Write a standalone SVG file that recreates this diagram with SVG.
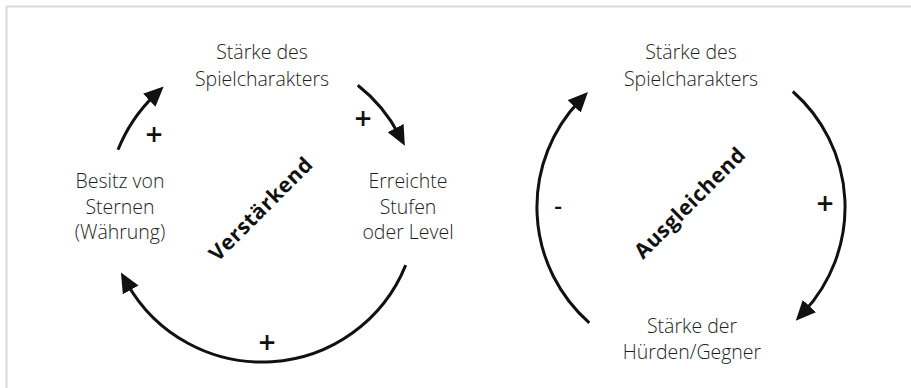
<svg xmlns="http://www.w3.org/2000/svg" width="911" height="388" viewBox="0 0 911 388">
  <style>
    .node { font-family: "Open Sans", "Liberation Sans", sans-serif; font-size: 19.5px; font-weight: 300; fill: #1e1e1e; text-anchor: middle; }
    .loop { font-family: "Open Sans", "Liberation Sans", sans-serif; font-size: 21px; font-weight: 700; fill: #111; text-anchor: middle; letter-spacing: 0.6px; }
    .sign { font-family: "Open Sans", "Liberation Sans", sans-serif; font-size: 30px; font-weight: 600; fill: #111; text-anchor: middle; }
    .minus { font-family: "Open Sans", "Liberation Sans", sans-serif; font-size: 24px; font-weight: 600; fill: #111; text-anchor: middle; }
    .link { fill: none; stroke: #111; stroke-width: 3; }
  </style>
  <defs>
    <marker id="head" markerUnits="userSpaceOnUse" markerWidth="20" markerHeight="18" refX="8" refY="9" orient="auto">
      <path d="M0,0 L20,9 L0,18 z" fill="#111"/>
    </marker>
  </defs>

  <rect width="911" height="388" fill="#fff"/>
  <!-- frame: only top and left edges fall inside the canvas -->
  <rect x="6.5" y="6.5" width="960" height="420" fill="none" stroke="#dadada" stroke-width="2"/>

  <!-- reinforcing loop -->
  <g id="r-staerke">
    <text class="node" x="262" y="59">Stärke des<tspan x="262" dy="27">Spielcharakters</tspan></text>
  </g>
  <g id="r-sterne">
    <text class="node" x="120" y="188">Besitz von<tspan x="120" dy="25.5">Sternen</tspan><tspan x="120" dy="25.5">(Währung)</tspan></text>
  </g>
  <g id="r-level">
    <text class="node" x="408" y="188">Erreichte<tspan x="408" dy="25.5">Stufen</tspan><tspan x="408" dy="25.5">oder Level</tspan></text>
  </g>
  <g id="r-label">
    <text class="loop" transform="translate(266,214) rotate(-45)">Verstärkend</text>
  </g>

  <!-- balancing loop -->
  <g id="b-staerke">
    <text class="node" x="691" y="59">Stärke des<tspan x="691" dy="27">Spielcharakters</tspan></text>
  </g>
  <g id="b-gegner">
    <text class="node" x="692" y="333">Stärke der<tspan x="692" dy="25.5">Hürden/Gegner</tspan></text>
  </g>
  <g id="b-label">
    <text class="loop" transform="translate(695,208) rotate(-45)">Ausgleichend</text>
  </g>

  <g id="connectors">
    <!-- circle (262,207) r=155 -->
    <path class="link" d="M118,149.8 A155,155 0 0 1 155,94.8" marker-end="url(#head)"/>
    <path class="link" d="M357.8,85.2 A155,155 0 0 1 399.3,135.2" marker-end="url(#head)"/>
    <path class="link" d="M405.7,265.1 A155,155 0 0 1 126.8,282.9" marker-end="url(#head)"/>
    <text class="sign" x="154" y="145">+</text>
    <text class="sign" x="363" y="129">+</text>
    <text class="sign" x="267" y="353">+</text>

    <!-- circle (691,207) r=154 -->
    <path class="link" d="M589.3,322.8 A154,154 0 0 1 579.7,100.6" marker-end="url(#head)"/>
    <path class="link" d="M792.8,91.5 A154,154 0 0 1 803.9,311.9" marker-end="url(#head)"/>
    <text class="minus" x="558" y="214">-</text>
    <text class="sign" x="825" y="214">+</text>
  </g>
</svg>
